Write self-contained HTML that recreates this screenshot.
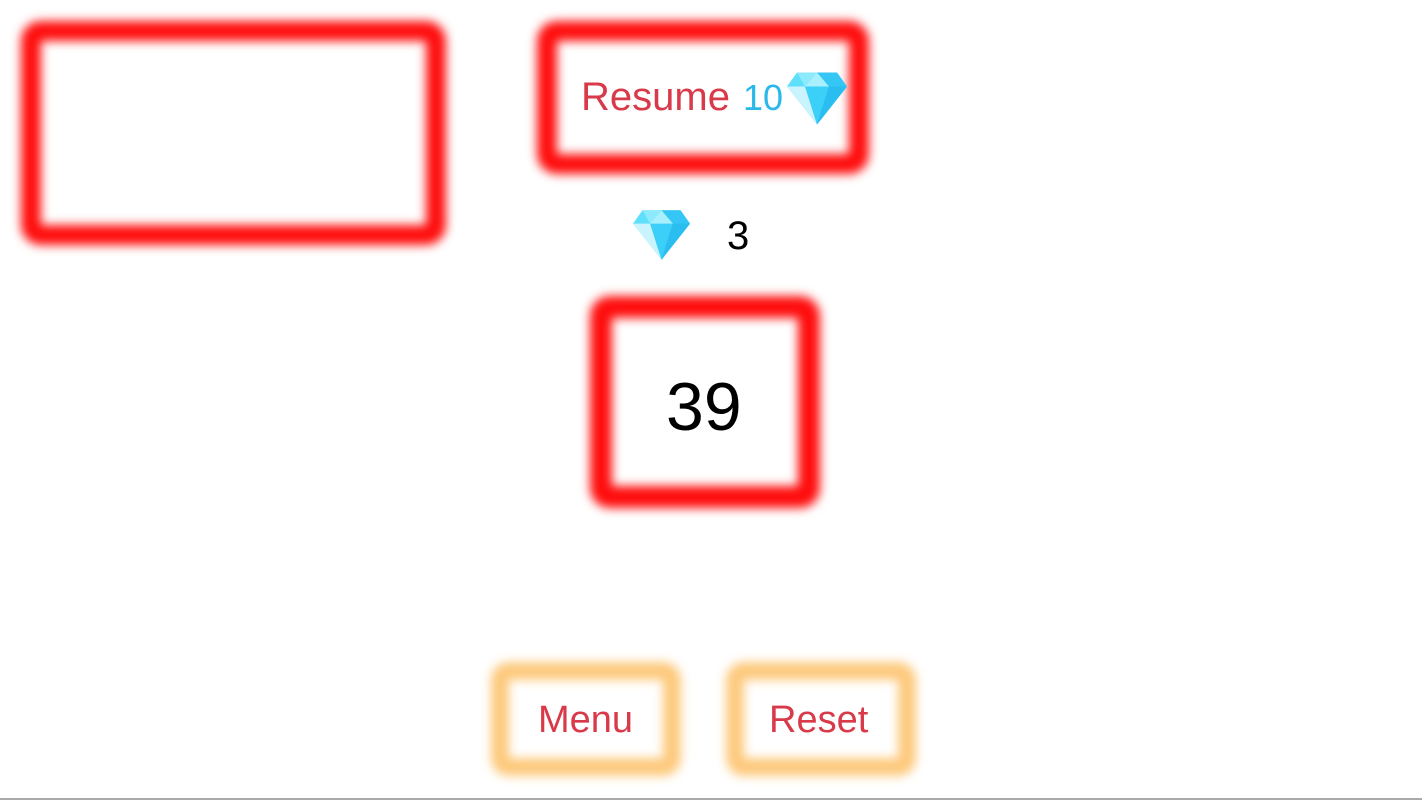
<!DOCTYPE html>
<html><head><meta charset="utf-8"><style>
html,body{margin:0;padding:0;width:1422px;height:800px;background:#fff;overflow:hidden;position:relative;font-family:"Liberation Sans",sans-serif}
.b{position:absolute;box-sizing:border-box;border-style:solid;filter:blur(5px)}
.r{border-color:#ff0d0d;border-width:20px;border-radius:20px}
.o{border-color:#fdc97c;border-width:18px;border-radius:18px}
.t{position:absolute;white-space:nowrap;line-height:1}
svg{position:absolute}
</style></head><body>
<svg width="0" height="0" style="position:absolute"><defs>
<g id="dia">
<polygon points="10,0 50,0 60,14 30,52 0,14" fill="#5ee0fb"/>
<polygon points="30,0 50,0 60,14 30,52" fill="#34c6f5"/>
<polygon points="0,14 18,14 30,52" fill="#c9f4fd"/>
<polygon points="18,14 42,14 30,52" fill="#3ccff8"/>
<polygon points="42,14 60,14 30,52" fill="#29bdf0"/>
<polygon points="20,0 30,0 18,14 10,0" fill="#8ceafc"/>
<polygon points="30,0 42,14 18,14" fill="#a8f0fd"/>
</g></defs></svg>

<div class="b r" style="left:21px;top:21px;width:425px;height:224px"></div>
<div class="b r" style="left:537px;top:21px;width:332px;height:153px"></div>
<div class="b r" style="left:590px;top:296px;width:230px;height:212px;border-width:22px"></div>
<div class="b o" style="left:491px;top:662px;width:190px;height:114px"></div>
<div class="b o" style="left:726px;top:662px;width:190px;height:114px"></div>

<div class="t" style="left:581px;top:77px;font-size:40px;color:#d93a4a">Resume</div>
<div class="t" style="left:743px;top:80px;font-size:36px;color:#2ab8ea">10</div>
<svg style="left:787px;top:72px" width="60" height="53" viewBox="0 0 60 52"><use href="#dia"/></svg>

<svg style="left:633px;top:210px" width="57" height="50" viewBox="0 0 60 52"><use href="#dia"/></svg>
<div class="t" style="left:727px;top:216px;font-size:40px;color:#000">3</div>

<div class="t" style="left:666px;top:373px;font-size:68px;color:#000">39</div>

<div class="t" style="left:538px;top:701px;font-size:38px;color:#d93a4a">Menu</div>
<div class="t" style="left:769px;top:701px;font-size:38px;color:#d93a4a">Reset</div>

<div style="position:absolute;left:0;top:798px;width:1422px;height:2px;background:#aaa"></div>
</body></html>
